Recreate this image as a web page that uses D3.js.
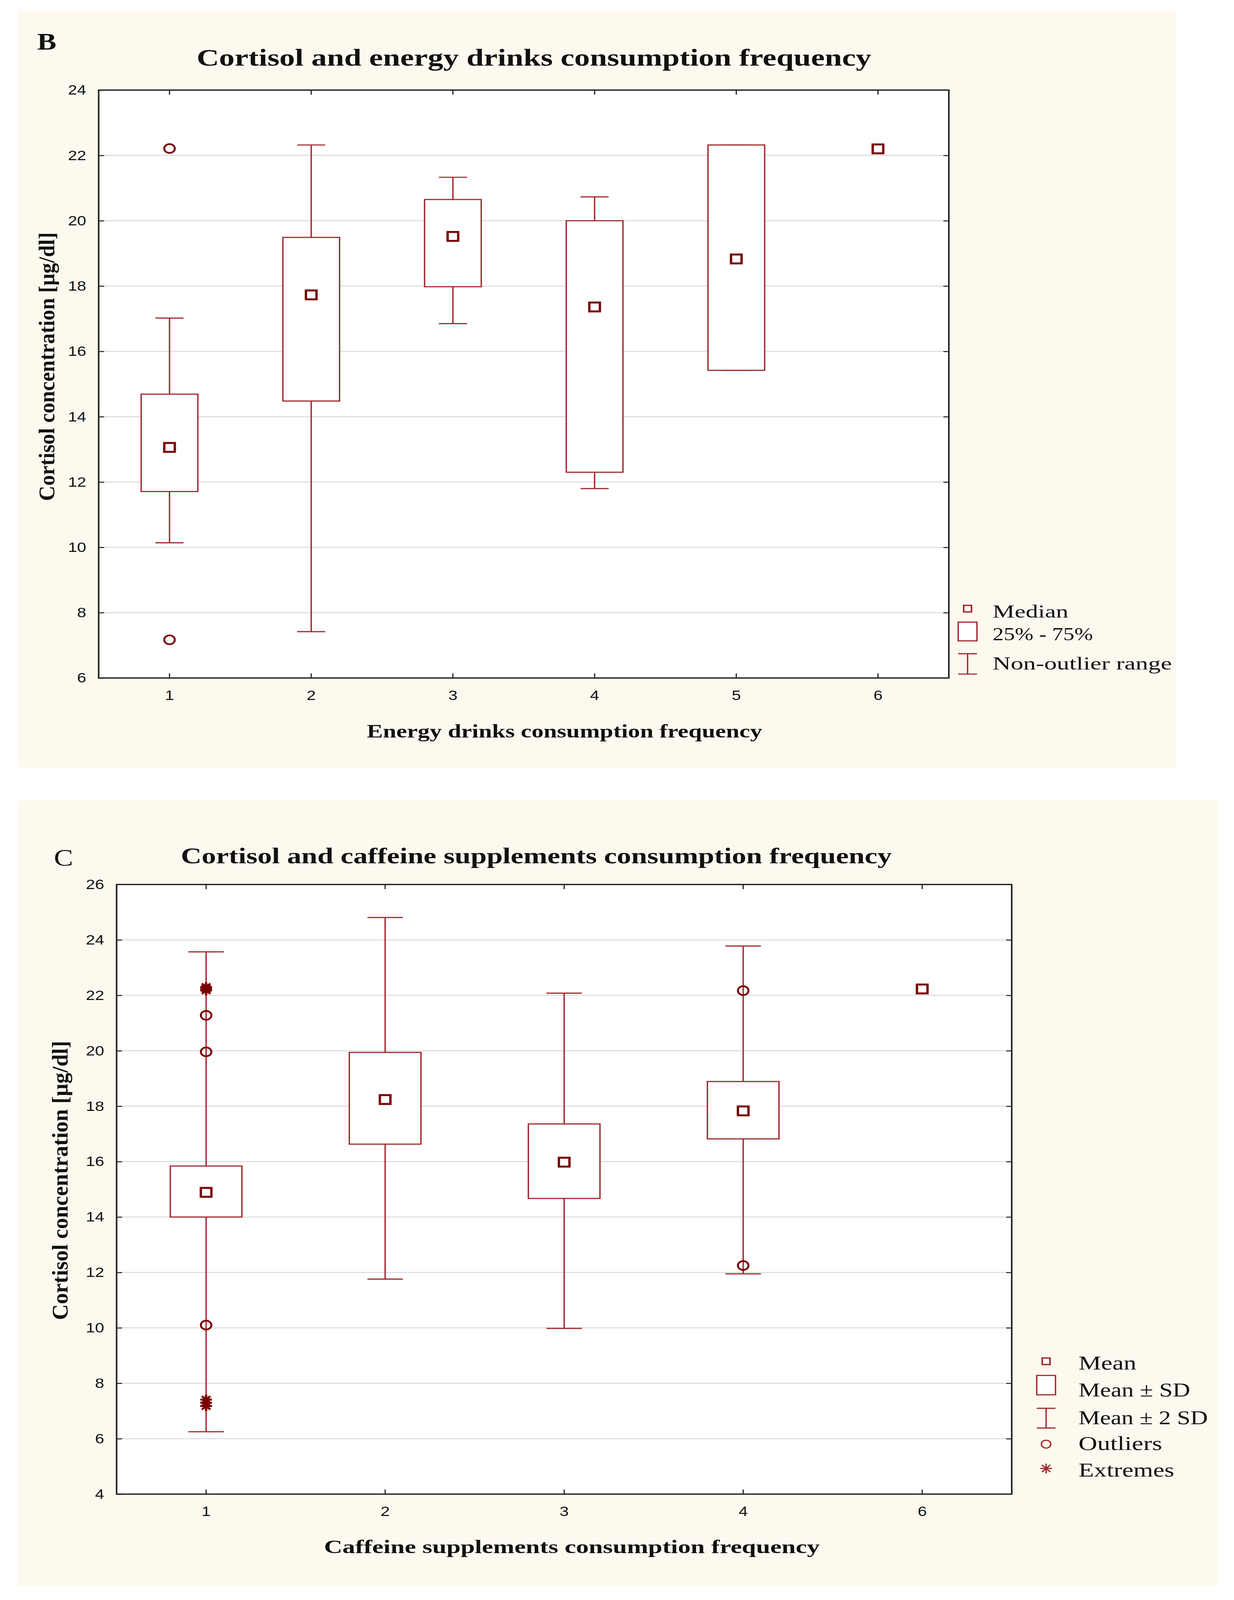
<!DOCTYPE html>
<html>
<head>
<meta charset="utf-8">
<script src="https://cdn.jsdelivr.net/npm/d3@7"></script>
<style>
  html, body { margin: 0; padding: 0; background: #fff; overflow: hidden; }
  svg { display: block; }
</style>
</head>
<body>
<svg id="chart"></svg>
<script>
// ---- Panel B: cortisol vs energy drinks consumption frequency ----
const energyCats     = ["1", "2", "3", "4", "5", "6"];
const energyMedian   = [13.06, 17.73, 19.52, 17.36, 18.83, 22.20];
const energyQ1       = [11.71, 14.48, 17.98, 12.30, 15.42, null];
const energyQ3       = [14.69, 19.49, 20.65, 20.00, 22.32, null];
const energyMin      = [10.14, 7.42, 16.85, 11.80, 15.42, null];
const energyMax      = [17.02, 22.32, 21.33, 20.73, 22.32, null];
const energyOutliers = [[22.21, 7.17], [], [], [], [], []];
const energyTicks    = [6, 8, 10, 12, 14, 16, 18, 20, 22, 24];

// ---- Panel C: cortisol vs caffeine supplements consumption frequency ----
const caffeineCats     = ["1", "2", "3", "4", "6"];
const caffeineMean     = [14.89, 18.24, 15.98, 17.83, 22.23];
const caffeineSdLow    = [14.00, 16.63, 14.67, 16.82, null];
const caffeineSdHigh   = [15.84, 19.94, 17.36, 18.89, null];
const caffeine2SdLow   = [6.25, 11.76, 9.98, 11.95, null];
const caffeine2SdHigh  = [23.57, 24.81, 22.08, 23.78, null];
const caffeineOutliers = [[21.28, 19.96, 10.10], [], [], [22.17, 12.25], []];
const caffeineExtremes = [[22.30, 22.24, 22.18, 7.41, 7.30, 7.18], [], [], [], []];
const caffeineTicks    = [4, 6, 8, 10, 12, 14, 16, 18, 20, 22, 24, 26];

// drawing is laid out on the 3159x4866 figure, then fitted to the window
const width = 3159, height = 4866;
const serif = "'Liberation Serif', 'Times New Roman', serif";
const sans = "'Liberation Sans', Arial, sans-serif";
const boxColor = "#a0282d", markColor = "#7a0000";

const svg = d3.select("#chart")
  .attr("width", window.innerWidth || width)
  .attr("height", window.innerHeight || height)
  .attr("viewBox", `0 0 ${width} ${height}`)
  .attr("preserveAspectRatio", "none");

// text helper: squeeze/stretch serif text to the width measured on the figure
function addText(g, t) {
  const txt = g.append("text")
    .attr("x", t.x)
    .attr("y", t.y)
    .attr("text-anchor", t.anchor || "start")
    .style("font-family", t.family || serif)
    .style("font-size", t.size + "px")
    .style("font-weight", t.bold ? "bold" : "normal")
    .attr("fill", "#111")
    .text(t.text);
  if (t.len) txt.attr("textLength", t.len).attr("lengthAdjust", "spacingAndGlyphs");
  if (t.rotate) txt.attr("transform", `rotate(-90, ${t.x}, ${t.y})`);
  return txt;
}

function starPath(cx, cy, r) {
  const d = r * 0.72;
  return `M${cx},${cy - r}L${cx},${cy + r}M${cx - r},${cy}L${cx + r},${cy}` +
         `M${cx - d},${cy - d}L${cx + d},${cy + d}M${cx - d},${cy + d}L${cx + d},${cy - d}`;
}

function drawPanel(p) {
  const g = svg.append("g");

  // cream background of the panel
  g.append("rect")
    .attr("x", p.bg[0]).attr("y", p.bg[1])
    .attr("width", p.bg[2] - p.bg[0]).attr("height", p.bg[3] - p.bg[1])
    .attr("fill", "#fdf9ef");

  const x = d3.scaleBand().domain(p.cats).range([p.left, p.right]);
  const y = d3.scaleLinear().domain(p.domain).range([p.bottom, p.top]);
  const bw = x.bandwidth();
  const boxW = bw * 0.4, capW = bw * 0.198;
  const cx = c => x(c) + bw / 2;

  // plot area
  g.append("rect")
    .attr("x", p.left).attr("y", p.top)
    .attr("width", p.right - p.left).attr("height", p.bottom - p.top)
    .attr("fill", "#fff");

  // gridlines
  g.selectAll("line.grid")
    .data(p.ticks.slice(1, -1))
    .join("line")
    .attr("class", "grid")
    .attr("x1", p.left).attr("x2", p.right)
    .attr("y1", d => y(d)).attr("y2", d => y(d))
    .attr("stroke", "#dadada")
    .attr("stroke-width", 3);

  // axes with inward ticks
  const styleAxis = a => {
    a.select(".domain").remove();
    a.selectAll(".tick line").attr("stroke", "#222").attr("stroke-width", 3);
    a.selectAll(".tick text")
      .attr("fill", "#111")
      .style("font-family", sans)
      .style("font-size", "42px");
  };
  g.append("g")
    .attr("transform", `translate(${p.left},0)`)
    .call(d3.axisLeft(y).tickValues(p.ticks).tickSizeInner(-14).tickSizeOuter(0).tickPadding(32))
    .call(styleAxis);
  g.append("g")
    .attr("transform", `translate(${p.right},0)`)
    .call(d3.axisRight(y).tickValues(p.ticks.slice(1, -1)).tickSizeInner(-14).tickSizeOuter(0).tickFormat(""))
    .call(styleAxis);
  g.append("g")
    .attr("transform", `translate(0,${p.bottom})`)
    .call(d3.axisBottom(x).tickSizeInner(-14).tickSizeOuter(0).tickPadding(37))
    .call(styleAxis);
  g.append("g")
    .attr("transform", `translate(0,${p.top})`)
    .call(d3.axisTop(x).tickSizeInner(-14).tickSizeOuter(0).tickFormat(""))
    .call(styleAxis);

  // whiskers
  const rows = p.rows.filter(r => r.lo != null);
  const marks = g.append("g");
  rows.forEach(r => {
    const c = cx(r.cat);
    marks.append("line")
      .attr("x1", c).attr("x2", c).attr("y1", y(r.hi)).attr("y2", y(r.lo))
      .attr("stroke", boxColor).attr("stroke-width", 3.5);
    [r.lo, r.hi].forEach(v => {
      marks.append("line")
        .attr("x1", c - capW / 2).attr("x2", c + capW / 2)
        .attr("y1", y(v)).attr("y2", y(v))
        .attr("stroke", boxColor).attr("stroke-width", 3.5);
    });
  });

  // boxes
  marks.selectAll("rect.box")
    .data(rows)
    .join("rect")
    .attr("class", "box")
    .attr("x", d => cx(d.cat) - boxW / 2)
    .attr("y", d => y(d.boxHi))
    .attr("width", boxW)
    .attr("height", d => y(d.boxLo) - y(d.boxHi))
    .attr("fill", "#fff")
    .attr("stroke", boxColor)
    .attr("stroke-width", 3.5);

  // centre markers (median / mean)
  marks.selectAll("rect.centre")
    .data(p.rows)
    .join("rect")
    .attr("class", "centre")
    .attr("x", d => cx(d.cat) - 13.5)
    .attr("y", d => y(d.centre) - 13.5)
    .attr("width", 27).attr("height", 27)
    .attr("fill", "#fff")
    .attr("stroke", markColor)
    .attr("stroke-width", 6);

  // outliers
  const outPts = p.rows.flatMap(r => r.outliers.map(v => ({cat: r.cat, v})));
  marks.selectAll("circle.out")
    .data(outPts)
    .join("circle")
    .attr("class", "out")
    .attr("cx", d => cx(d.cat))
    .attr("cy", d => y(d.v))
    .attr("r", 13.5)
    .attr("fill", "none")
    .attr("stroke", markColor)
    .attr("stroke-width", 5);

  // extremes
  const extPts = p.rows.flatMap(r => (r.extremes || []).map(v => ({cat: r.cat, v})));
  marks.selectAll("path.ext")
    .data(extPts)
    .join("path")
    .attr("class", "ext")
    .attr("d", d => starPath(cx(d.cat), y(d.v), 15))
    .attr("fill", "none")
    .attr("stroke", markColor)
    .attr("stroke-width", 6);

  // frame
  g.append("rect")
    .attr("x", p.left).attr("y", p.top)
    .attr("width", p.right - p.left).attr("height", p.bottom - p.top)
    .attr("fill", "none")
    .attr("stroke", "#222")
    .attr("stroke-width", 4);

  // labels
  addText(g, p.letter);
  addText(g, p.title);
  addText(g, p.xTitle);
  addText(g, p.yTitle);

  // legend
  const lg = g.append("g");
  const lx = p.legend.x;
  p.legend.items.forEach(it => {
    if (it.type === "square") {
      lg.append("rect")
        .attr("x", lx - 10).attr("y", it.cy - 10).attr("width", 20).attr("height", 20)
        .attr("fill", "none").attr("stroke", boxColor).attr("stroke-width", 4);
    } else if (it.type === "box") {
      lg.append("rect")
        .attr("x", lx - 24).attr("y", it.y0).attr("width", 48).attr("height", it.y1 - it.y0)
        .attr("fill", "#fff").attr("stroke", boxColor).attr("stroke-width", 3.5);
    } else if (it.type === "range") {
      lg.append("path")
        .attr("d", `M${lx - 24},${it.y0}H${lx + 24}M${lx},${it.y0}V${it.y1}M${lx - 24},${it.y1}H${lx + 24}`)
        .attr("fill", "none").attr("stroke", boxColor).attr("stroke-width", 3.5);
    } else if (it.type === "circle") {
      lg.append("circle")
        .attr("cx", lx).attr("cy", it.cy).attr("r", 12)
        .attr("fill", "none").attr("stroke", boxColor).attr("stroke-width", 3.5);
    } else if (it.type === "star") {
      lg.append("path")
        .attr("d", starPath(lx, it.cy, 15))
        .attr("fill", "none").attr("stroke", boxColor).attr("stroke-width", 3.5);
    }
    addText(lg, {x: p.legend.textX, y: it.base, text: it.label, size: p.legend.size, len: it.len});
  });
}

const energyRows = energyCats.map((c, i) => ({
  cat: c, centre: energyMedian[i], boxLo: energyQ1[i], boxHi: energyQ3[i],
  lo: energyMin[i], hi: energyMax[i], outliers: energyOutliers[i]
}));

const caffeineRows = caffeineCats.map((c, i) => ({
  cat: c, centre: caffeineMean[i], boxLo: caffeineSdLow[i], boxHi: caffeineSdHigh[i],
  lo: caffeine2SdLow[i], hi: caffeine2SdHigh[i],
  outliers: caffeineOutliers[i], extremes: caffeineExtremes[i]
}));

drawPanel({
  bg: [45, 34, 3012, 2335],
  left: 252.6, right: 2429, top: 274, bottom: 2062,
  domain: [6, 24], ticks: energyTicks, cats: energyCats, rows: energyRows,
  letter: {text: "B", x: 95, y: 151, size: 74, bold: true},
  title: {text: "Cortisol and energy drinks consumption frequency", x: 1367, y: 199, size: 72, bold: true, anchor: "middle", len: 1727},
  xTitle: {text: "Energy drinks consumption frequency", x: 1445, y: 2243, size: 58, bold: true, anchor: "middle", len: 1012},
  yTitle: {text: "Cortisol concentration [µg/dl]", x: 139, y: 1115, size: 58, bold: true, anchor: "middle", len: 817, rotate: true},
  legend: {
    x: 2477, textX: 2541, size: 56,
    items: [
      {type: "square", cy: 1851, base: 1878, label: "Median", len: 194},
      {type: "box", y0: 1892, y1: 1949, base: 1947, label: "25% - 75%", len: 257},
      {type: "range", y0: 1988, y1: 2050, base: 2036, label: "Non-outlier range", len: 459}
    ]
  }
});

drawPanel({
  bg: [45, 2434, 3118, 4824],
  left: 298.5, right: 2590, top: 2690, bottom: 4544,
  domain: [4, 26], ticks: caffeineTicks, cats: caffeineCats, rows: caffeineRows,
  letter: {text: "C", x: 138, y: 2633, size: 74},
  title: {text: "Cortisol and caffeine supplements consumption frequency", x: 1373, y: 2625, size: 68, bold: true, anchor: "middle", len: 1820},
  xTitle: {text: "Caffeine supplements consumption frequency", x: 1464, y: 4724, size: 58, bold: true, anchor: "middle", len: 1269},
  yTitle: {text: "Cortisol concentration [µg/dl]", x: 173, y: 3590, size: 58, bold: true, anchor: "middle", len: 849, rotate: true},
  legend: {
    x: 2678, textX: 2761, size: 60,
    items: [
      {type: "square", cy: 4140, base: 4165, label: "Mean", len: 148},
      {type: "box", y0: 4183, y1: 4242, base: 4247, label: "Mean ± SD", len: 286},
      {type: "range", y0: 4283, y1: 4343, base: 4331, label: "Mean ± 2 SD", len: 331},
      {type: "circle", cy: 4392, base: 4410, label: "Outliers", len: 214},
      {type: "star", cy: 4466, base: 4491, label: "Extremes", len: 245}
    ]
  }
});
</script>
</body>
</html>
